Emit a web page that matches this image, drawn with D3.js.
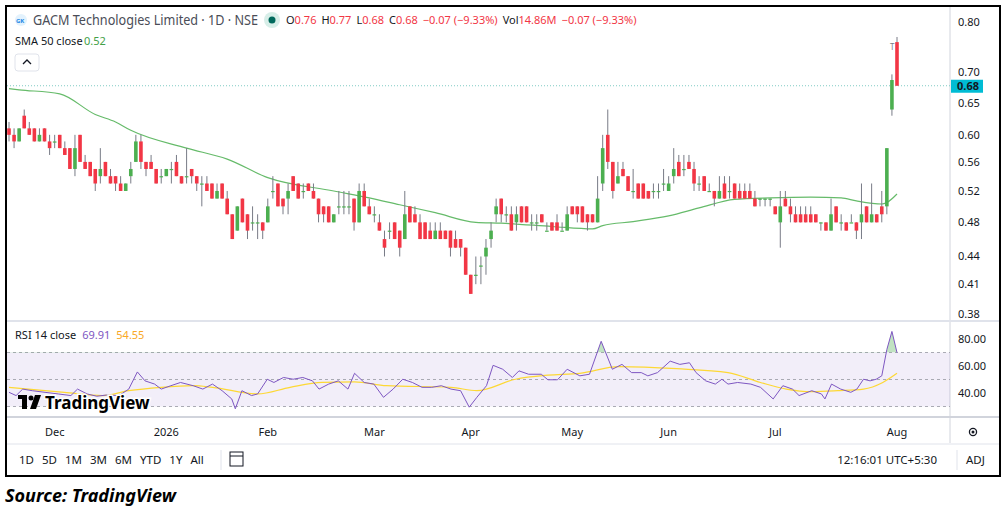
<!DOCTYPE html>
<html>
<head>
<meta charset="utf-8">
<script src="https://cdn.jsdelivr.net/npm/d3@7"></script>
<style>
body{margin:0;background:#fff;}
text{font-family:"Noto Sans",Roboto,sans-serif;}
</style>
</head>
<body>
<svg id="chart" width="1005" height="512"></svg>
<script>
// candles (index 0 = first visible bar)
var opens  = [.61,.60,.59,.63,.61,.61,.59,.61,.59,.59,.60,.58,.58,.55,.60,.56,.56,.55,.54,.56,.54,.54,.53,.52,.54,.56,.59,.56,.56,.55,.54,.54,.55,.56,.54,.54,.55,.54,.53,.53,.53,.51,.53,.51,.49,.47,.51,.49,.48,.48,.48,.48,.52,.53,.51,.51,.54,.53,.52,.53,.52,.51,.50,.50,.48,.50,.50,.50,.51,.48,.52,.50,.49,.48,.46,.47,.48,.47,.46,.50,.49,.48,.48,.47,.46,.47,.47,.47,.46,.46,.45,.42,.42,.43,.44,.46,.49,.51,.49,.49,.48,.50,.50,.48,.48,.49,.47,.48,.48,.47,.47,.50,.50,.50,.49,.49,.48,.53,.60,.56,.53,.55,.54,.52,.53,.53,.52,.52,.52,.53,.52,.54,.56,.55,.56,.55,.53,.54,.52,.52,.51,.53,.52,.53,.52,.52,.52,.51,.51,.51,.51,.50,.48,.51,.50,.49,.49,.49,.49,.49,.48,.48,.47,.50,.48,.48,.48,.48,.48,.50,.48,.49,.50,.50,.64,.76];
var highs  = [.62,.61,.61,.64,.62,.61,.61,.61,.60,.60,.60,.59,.58,.60,.60,.57,.56,.55,.58,.56,.55,.54,.54,.53,.56,.60,.60,.56,.57,.55,.55,.55,.56,.57,.54,.58,.55,.54,.54,.54,.53,.53,.53,.52,.49,.50,.51,.49,.50,.49,.48,.51,.54,.53,.51,.53,.54,.53,.53,.53,.53,.51,.50,.50,.49,.52,.52,.52,.51,.53,.53,.51,.50,.49,.47,.48,.48,.47,.52,.50,.50,.49,.48,.48,.48,.48,.47,.47,.47,.46,.45,.42,.44,.44,.46,.48,.51,.51,.50,.50,.50,.50,.50,.49,.49,.49,.48,.48,.49,.48,.50,.50,.50,.50,.49,.49,.54,.60,.64,.56,.56,.56,.54,.55,.53,.53,.52,.53,.53,.55,.54,.58,.57,.57,.57,.56,.54,.54,.53,.52,.54,.54,.54,.53,.53,.53,.53,.52,.51,.51,.51,.50,.52,.52,.51,.50,.50,.50,.50,.49,.48,.48,.51,.50,.49,.48,.49,.48,.53,.50,.53,.49,.52,.58,.70,.77];
var lows   = [.59,.58,.59,.61,.60,.59,.59,.59,.57,.58,.58,.57,.55,.54,.56,.55,.54,.52,.53,.54,.53,.52,.52,.52,.53,.56,.55,.54,.55,.53,.53,.54,.53,.54,.53,.53,.53,.52,.50,.52,.51,.51,.51,.49,.46,.47,.48,.46,.47,.46,.46,.48,.51,.50,.49,.49,.52,.51,.51,.52,.51,.48,.48,.48,.48,.49,.49,.49,.47,.48,.50,.49,.48,.47,.44,.46,.46,.44,.46,.48,.48,.46,.46,.46,.46,.46,.46,.44,.45,.44,.42,.40,.41,.41,.42,.45,.48,.48,.48,.47,.47,.48,.48,.47,.47,.48,.47,.47,.47,.47,.47,.49,.48,.48,.47,.48,.48,.52,.55,.51,.53,.54,.52,.51,.51,.51,.51,.51,.51,.52,.52,.53,.54,.54,.55,.52,.52,.52,.52,.50,.51,.51,.51,.51,.51,.51,.51,.50,.50,.50,.50,.49,.45,.50,.48,.48,.48,.48,.48,.48,.47,.47,.47,.48,.47,.47,.48,.46,.46,.48,.48,.48,.48,.49,.63,.68];
var closes = [.60,.59,.61,.61,.60,.59,.60,.59,.58,.59,.58,.57,.55,.58,.56,.55,.54,.53,.55,.54,.53,.53,.52,.53,.55,.59,.56,.55,.55,.53,.54,.55,.55,.54,.53,.54,.54,.53,.53,.52,.51,.52,.51,.49,.46,.50,.48,.47,.48,.48,.47,.50,.52,.50,.50,.52,.52,.51,.52,.52,.51,.49,.49,.48,.49,.50,.50,.50,.48,.52,.50,.49,.49,.47,.45,.47,.46,.45,.49,.48,.48,.46,.46,.46,.47,.46,.46,.45,.45,.45,.42,.40,.42,.43,.45,.47,.50,.49,.49,.47,.49,.48,.48,.48,.48,.48,.47,.47,.47,.47,.49,.49,.49,.48,.48,.48,.51,.58,.56,.52,.54,.54,.52,.52,.51,.51,.51,.52,.52,.53,.53,.55,.54,.55,.55,.53,.53,.52,.52,.51,.52,.51,.52,.51,.51,.51,.51,.50,.51,.51,.51,.49,.50,.50,.49,.48,.48,.48,.48,.48,.48,.47,.49,.48,.48,.47,.48,.47,.49,.48,.49,.48,.49,.58,.69,.68];

// SMA 50 as drawn (bar index, value)
var smaIdx = [0,2,10,17,21,24,35,43,51,64,71,77,84,92,97,107,115,117,123,130,136,143,150,158,164,167,172,173,175];
var smaVal = [.675,.673,.666,.632,.62,.607,.580,.564,.538,.52,.511,.502,.492,.480,.479,.475,.472,.476,.481,.488,.498,.509,.511,.512,.511,.507,.503,.505,.516];

// RSI 14 and its MA (bar index, value)
var rsiIdx = [0,1.4,2.7,4.6,7.1,9.7,12.2,13.5,15.4,17.3,19.2,21.7,23.6,25.3,26.8,28.7,30,31.9,33.8,36.3,38.2,40.1,42,43.9,44.6,45.9,47.8,49,50.9,52.2,54.1,56,57.9,59.8,61.1,63,64.9,66.8,68.1,70,71.9,73.8,75.7,77.6,79.5,81.4,83.3,85.2,87.1,89,90.7,92.2,94.1,95.4,97.3,99.2,100.5,102.4,104.9,106.2,108.1,110,112.5,114.4,116.7,118.9,120.8,122.7,124.6,125.9,127.8,130.3,132.2,134.1,135.4,137.3,139.2,140.5,141.7,143.6,146.2,148.1,150.6,152.5,154.4,155.7,158.2,160.1,160.8,162.1,163.9,165.9,167.1,168.4,169.7,170.9,172,173,174,175];
var rsiVal = [40.5,38.1,42.9,41.7,40.5,39.3,38.1,42.9,39.3,37.6,38.5,38.1,42.9,55.6,49,46.6,42.9,45.4,47.8,45.4,42.9,46.6,41.7,35.6,28.3,41.7,38.1,39.3,50.2,47.8,51.5,50.2,51.5,49,42.9,46.6,49,42.9,54.6,47.8,46.6,36.8,42.9,50.2,47.8,44.2,44.2,45.4,42.9,41.7,29.5,36.8,45.4,60.5,57.6,51.5,56.4,53.9,53.9,49.8,49.8,57.6,52.7,53.9,78.3,57.6,61.2,55.1,55.1,52.7,55.1,63.6,61.2,62.4,55.1,49,46.6,50.2,46.6,47.8,46.6,44.2,35.6,45.4,42.9,38.1,41.7,39.3,35.6,46.6,42.9,40.5,42.9,50.2,49,50.2,52.7,72.2,85.6,69.91];
var maIdx = [0,10.9,18.5,23.6,30,36.3,40.1,49,55.4,61.7,68.1,74.4,87.1,92.2,99.8,106.2,112.5,120.2,131.6,141.7,148.1,153.2,158.2,163.3,168.4,172.2,175];
var maVal = [44.2,40.5,38.1,41.7,44.2,45.4,44.2,39.3,44.2,47.8,48.3,45.4,44.2,41.7,50.2,53.2,54.6,59.5,58,55.1,47.8,42.9,41,41.7,42.9,47.8,54.55];

var priceTicks = [0.38,0.41,0.44,0.48,0.52,0.56,0.60,0.65,0.70,0.80];
var rsiTicks = [40,60,80];
var monthIdx = [9,31,51,72,91,111,130,151,175];
var monthLbl = ["Dec","2026","Feb","Mar","Apr","May","Jun","Jul","Aug"];
var ranges = ["1D","5D","1M","3M","6M","YTD","1Y","All"];

var up = "#4caf50", dn = "#f23645", txt = "#131722";
var svg = d3.select("#chart");
svg.append("rect").attr("width",1005).attr("height",512).attr("fill","#fff");

var x = d3.scaleLinear().domain([0,175]).range([9,897]);
var y = d3.scaleLog().domain([0.38,0.8]).range([314,22]);
var yr = d3.scaleLinear().domain([40,80]).range([393,339]);

// frame and separators
svg.append("rect").attr("x",6).attr("y",6).attr("width",994).attr("height",470)
  .attr("fill","none").attr("stroke","#000").attr("stroke-width",2);
svg.append("line").attr("x1",950).attr("x2",950).attr("y1",7).attr("y2",443).attr("stroke","#d1d4dc");
svg.append("line").attr("x1",7).attr("x2",999).attr("y1",321).attr("y2",321).attr("stroke","#e0e3eb").attr("stroke-width",2);
svg.append("line").attr("x1",7).attr("x2",999).attr("y1",417).attr("y2",417).attr("stroke","#d1d4dc").attr("stroke-width",2);
svg.append("line").attr("x1",7).attr("x2",999).attr("y1",444).attr("y2",444).attr("stroke","#e0e3eb");

// price pane
var pane = svg.append("g");
pane.append("line").attr("x1",7).attr("x2",950).attr("y1",y(0.68)).attr("y2",y(0.68))
  .attr("stroke","#80cbc4").attr("stroke-dasharray","1,2");

var sma = d3.line().x(function(d){return x(d[0]);}).y(function(d){return y(d[1]);}).curve(d3.curveMonotoneX);
pane.append("path").datum(d3.zip(smaIdx,smaVal)).attr("d",sma)
  .attr("fill","none").attr("stroke","#66bb6a").attr("stroke-width",1.2);

var bars = closes.map(function(c,i){return {i:i,o:opens[i],h:highs[i],l:lows[i],c:c};});
pane.selectAll(".wick").data(bars).enter().append("line")
  .attr("x1",function(d){return x(d.i);}).attr("x2",function(d){return x(d.i);})
  .attr("y1",function(d){return y(d.h);}).attr("y2",function(d){return y(d.l);})
  .attr("stroke","#787b86").attr("stroke-width",1);
pane.selectAll(".body").data(bars).enter().append("rect")
  .attr("x",function(d){return x(d.i)-1.8;}).attr("width",3.6)
  .attr("y",function(d){return y(Math.max(d.o,d.c));})
  .attr("height",function(d){return Math.max(1.2,y(Math.min(d.o,d.c))-y(Math.max(d.o,d.c)));})
  .attr("fill",function(d){return d.c>=d.o?up:dn;});
pane.append("text").attr("x",x(175)-7).attr("y",y(0.77)+13).attr("font-size",8).attr("fill","#787b86").text("T");

pane.selectAll(".ptick").data(priceTicks).enter().append("text")
  .attr("x",958).attr("y",function(d){return y(d)+(d==0.70?2:4);}).attr("font-size",11).attr("fill",txt)
  .text(function(d){return d.toFixed(2);});
svg.append("rect").attr("x",951).attr("y",y(0.68)-6).attr("width",32).attr("height",13).attr("fill","#00bcd4");
svg.append("text").attr("x",957).attr("y",y(0.68)+4.5).attr("font-size",11).attr("font-weight","bold").attr("fill","#131722").text("0.68");

// legend
svg.append("circle").attr("cx",21).attr("cy",20).attr("r",6).attr("fill","#e3f2fd");
svg.append("text").attr("x",16).attr("y",22.5).attr("font-size",6).attr("font-weight","bold").attr("fill","#1e88e5").text("GK");
svg.append("text").attr("x",33).attr("y",25).attr("font-size",13.5).attr("fill","#4a4d57")
  .attr("textLength",225).attr("lengthAdjust","spacingAndGlyphs").text("GACM Technologies Limited · 1D · NSE");
svg.append("circle").attr("cx",272).attr("cy",20).attr("r",8).attr("fill","#d7eee8");
svg.append("circle").attr("cx",272).attr("cy",20).attr("r",3.5).attr("fill","#00695c");
var ohlc = svg.append("text").attr("x",286).attr("y",24).attr("font-size",11);
[["O","0.76"],["H","0.77"],["L","0.68"],["C","0.68"]].forEach(function(p,k){
  ohlc.append("tspan").attr("dx",k?5:0).attr("fill",txt).text(p[0]);
  ohlc.append("tspan").attr("fill",dn).text(p[1]);
});
ohlc.append("tspan").attr("dx",5).attr("fill",dn).text("−0.07 (−9.33%)");
ohlc.append("tspan").attr("dx",5).attr("fill",txt).text("Vol");
ohlc.append("tspan").attr("fill",dn).text("14.86M");
ohlc.append("tspan").attr("dx",5).attr("fill",dn).text("−0.07 (−9.33%)");
svg.append("text").attr("x",15).attr("y",45).attr("font-size",11).attr("fill",txt).text("SMA 50 close");
svg.append("text").attr("x",84).attr("y",45).attr("font-size",11).attr("fill","#43a047").text("0.52");
svg.append("rect").attr("x",15).attr("y",54).attr("width",24).attr("height",17).attr("rx",3)
  .attr("fill","#fff").attr("stroke","#e0e3eb");
svg.append("path").attr("d","M23,64 L27,60 L31,64").attr("fill","none").attr("stroke",txt).attr("stroke-width",1.3);

// RSI pane
var rp = svg.append("g");
rp.append("rect").attr("x",7).attr("y",yr(70)).attr("width",943).attr("height",yr(30)-yr(70)).attr("fill","rgba(126,87,194,0.1)");
[70,50,30].forEach(function(v){
  rp.append("line").attr("x1",7).attr("x2",950).attr("y1",yr(v)).attr("y2",yr(v))
    .attr("stroke","#9598a1").attr("stroke-dasharray","3,3").attr("stroke-width",0.8);
});
var rsiData = d3.zip(rsiIdx,rsiVal);
svg.append("clipPath").attr("id","ob").append("rect").attr("x",0).attr("y",0).attr("width",1005).attr("height",yr(70));
rp.append("path").datum(rsiData).attr("clip-path","url(#ob)")
  .attr("d",d3.area().x(function(d){return x(d[0]);}).y0(yr(70)).y1(function(d){return yr(d[1]);}))
  .attr("fill","rgba(76,175,80,0.35)");
rp.append("path").datum(d3.zip(maIdx,maVal))
  .attr("d",d3.line().x(function(d){return x(d[0]);}).y(function(d){return yr(d[1]);}).curve(d3.curveMonotoneX))
  .attr("fill","none").attr("stroke","#fdd835").attr("stroke-width",1.2);
rp.append("path").datum(rsiData)
  .attr("d",d3.line().x(function(d){return x(d[0]);}).y(function(d){return yr(d[1]);}))
  .attr("fill","none").attr("stroke","#7e57c2").attr("stroke-width",1);
rp.selectAll(".rtick").data(rsiTicks).enter().append("text")
  .attr("x",958).attr("y",function(d){return yr(d)+4;}).attr("font-size",11).attr("fill",txt)
  .text(function(d){return d.toFixed(2);});
var rl = svg.append("text").attr("x",15).attr("y",339).attr("font-size",11);
rl.append("tspan").attr("fill",txt).text("RSI 14 close");
rl.append("tspan").attr("dx",6).attr("fill","#7e57c2").text("69.91");
rl.append("tspan").attr("dx",6).attr("fill","#f9a825").text("54.55");

// TradingView watermark
var wm = svg.append("g").attr("transform","translate(18,395)");
wm.append("rect").attr("x",0).attr("y",0).attr("width",9).attr("height",4).attr("fill","#000");
wm.append("rect").attr("x",4).attr("y",0).attr("width",5).attr("height",14).attr("fill","#000");
wm.append("circle").attr("cx",13).attr("cy",3).attr("r",2.5).attr("fill","#000");
wm.append("path").attr("d","M17,0 L23,0 L18,14 L12,14 Z").attr("fill","#000");
svg.append("text").attr("x",45).attr("y",409).attr("font-size",17).attr("font-weight","bold").attr("fill","#000")
  .attr("stroke","#fff").attr("stroke-width",3).attr("paint-order","stroke").text("TradingView");

// time axis
svg.selectAll(".mtick").data(monthIdx).enter().append("text")
  .attr("x",function(d){return x(d);}).attr("y",436).attr("text-anchor","middle")
  .attr("font-size",11).attr("fill",txt).text(function(d,i){return monthLbl[i];});
svg.append("path").attr("d",d3.symbol().type(d3.symbolCircle).size(40)()).attr("transform","translate(973,432)")
  .attr("fill","none").attr("stroke",txt).attr("stroke-width",1.3);
svg.append("circle").attr("cx",973).attr("cy",432).attr("r",1.5).attr("fill",txt);

// toolbar
var tx = 19;
ranges.forEach(function(r){
  var t = svg.append("text").attr("x",tx).attr("y",464).attr("font-size",11.5).attr("fill",txt).text(r);
  tx += t.node().getComputedTextLength() + 8;
});
svg.append("line").attr("x1",221).attr("x2",221).attr("y1",450).attr("y2",470).attr("stroke","#e0e3eb");
svg.append("rect").attr("x",230).attr("y",452).attr("width",13).attr("height",14).attr("fill","none").attr("stroke",txt);
svg.append("line").attr("x1",230).attr("x2",243).attr("y1",456).attr("y2",456).attr("stroke",txt);
svg.append("text").attr("x",937).attr("y",464).attr("text-anchor","end").attr("font-size",11.5).attr("fill",txt).text("12:16:01 UTC+5:30");
svg.append("line").attr("x1",957).attr("x2",957).attr("y1",450).attr("y2",470).attr("stroke","#e0e3eb");
svg.append("text").attr("x",966).attr("y",464).attr("font-size",11.5).attr("fill",txt).text("ADJ");

svg.append("text").attr("x",5).attr("y",502).attr("font-size",18).attr("font-weight","bold").attr("font-style","italic")
  .attr("font-family","'Liberation Sans Narrow','DejaVu Sans Condensed',sans-serif").attr("fill","#000").text("Source: TradingView");
</script>
</body>
</html>
